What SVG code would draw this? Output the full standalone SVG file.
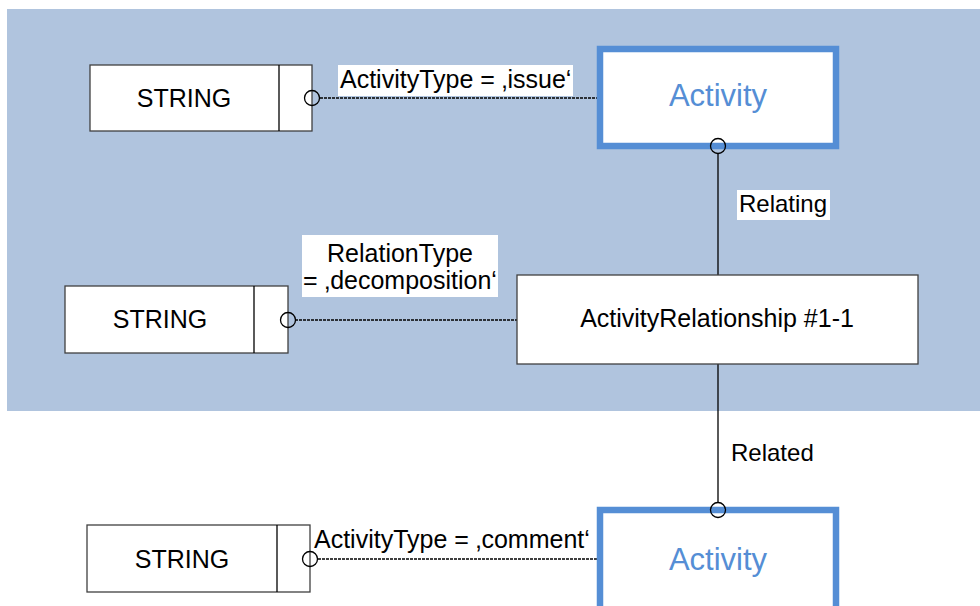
<svg xmlns="http://www.w3.org/2000/svg" width="980" height="606" viewBox="0 0 980 606">
<style>
text{font-family:"Liberation Sans",Arial,sans-serif;font-size:25px;fill:#000}
.box{fill:#fff;stroke:#404040;stroke-width:1.3}
.act{fill:#fff;stroke:#558ED5;stroke-width:6.5}
.actt{font-size:31px;fill:#558ED5}
.dash{stroke:#000;stroke-width:1.3;stroke-dasharray:3 1;fill:none}
.solid{stroke:#000;stroke-width:1.3;fill:none}
.circ{fill:none;stroke:#000;stroke-width:1.3}
.lbl{fill:#fff}
</style>
<rect x="7" y="9" width="973" height="402" fill="#B0C4DE"/>
<g id="connectors">
<line class="dash" x1="320" y1="98" x2="598" y2="98"/>
<line class="dash" x1="295" y1="320" x2="517" y2="320"/>
<line class="dash" x1="318" y1="559" x2="598" y2="559"/>
<line class="solid" x1="718" y1="154" x2="718" y2="275"/>
<line class="solid" x1="718" y1="364" x2="718" y2="503"/>
<rect class="lbl" x="338" y="65" width="235" height="31"/>
<text x="340" y="88">ActivityType = ‚issue‘</text>
<rect class="lbl" x="302" y="235" width="196" height="62"/>
<text x="400" y="262" text-anchor="middle">RelationType</text>
<text x="400" y="289" text-anchor="middle">= ‚decomposition‘</text>
<rect class="lbl" x="737" y="190" width="93" height="30"/>
<text x="739" y="212" style="font-size:24px">Relating</text>
<text x="731" y="461" style="font-size:24px">Related</text>
<text x="314" y="548">ActivityType = ‚comment‘</text>
</g>
<g id="string1">
<rect class="box" x="90" y="65" width="222" height="66"/>
<line class="solid" x1="279" y1="65" x2="279" y2="131" stroke="#404040"/>
<text x="184" y="107" text-anchor="middle">STRING</text>
<circle class="circ" cx="312" cy="98" r="7.5"/>
</g>
<g id="activity1">
<rect class="act" x="600" y="49" width="236" height="97"/>
<text class="actt" x="718" y="106" text-anchor="middle">Activity</text>
<circle class="circ" cx="718" cy="146" r="7.5"/>
</g>
<g id="string2">
<rect class="box" x="65" y="286" width="223" height="67"/>
<line class="solid" x1="254" y1="286" x2="254" y2="353" stroke="#404040"/>
<text x="160" y="328" text-anchor="middle">STRING</text>
<circle class="circ" cx="288" cy="320" r="7.5"/>
</g>
<g id="relationship">
<rect class="box" x="517" y="275" width="401" height="89"/>
<text x="717" y="327" text-anchor="middle">ActivityRelationship #1-1</text>
</g>
<g id="string3">
<rect class="box" x="87" y="525" width="223" height="67"/>
<line class="solid" x1="277" y1="525" x2="277" y2="592" stroke="#404040"/>
<text x="182" y="568" text-anchor="middle">STRING</text>
<circle class="circ" cx="310" cy="559" r="7.5"/>
</g>
<g id="activity2">
<rect class="act" x="600" y="510" width="236" height="110"/>
<text class="actt" x="718" y="570" text-anchor="middle">Activity</text>
<circle class="circ" cx="718" cy="510" r="7.5"/>
</g>
</svg>
